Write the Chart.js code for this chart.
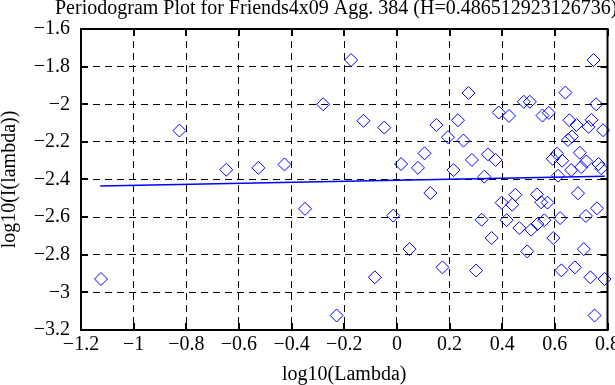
<!DOCTYPE html>
<html lang="en">
<head>
  <meta charset="UTF-8">
  <title>Periodogram Plot</title>
  <script src="https://cdn.jsdelivr.net/npm/chart.js"></script>
  <style>
    body { margin: 0; background: #fff; overflow: hidden; }
    canvas { display: block; }
  </style>
</head>
<body>

<canvas id="grafico" width="615" height="385"></canvas>

<script>
  // titulo e eixos
  const tituloTexto = 'Periodogram Plot for Friends4x09 Agg. 384 (H=0.486512923126736)';
  const eixoX = 'log10(Lambda)';
  const eixoY = 'log10(I(lambda))';
  const ticksX = [-1.2, -1, -0.8, -0.6, -0.4, -0.2, 0, 0.2, 0.4, 0.6, 0.8];
  const ticksY = [-3.2, -3, -2.8, -2.6, -2.4, -2.2, -2, -1.8, -1.6];

  // pontos do periodograma
  const lambdaLog = [
    -1.124, -0.826, -0.648, -0.526, -0.427, -0.349, -0.28, -0.229,
    -0.174, 0.747, 0.272, 0.64, 0.482, 0.505, 0.757, -0.127, -0.048,
    0.387, 0.426, 0.553, 0.577, 0.15, 0.232, 0.655, 0.682, 0.739, 0.728, 0.783,
    0.194, 0.253, 0.65, 0.665, 0.105, 0.016, 0.08, 0.215, 0.285, 0.346, 0.375, 0.332,
    0.592, 0.608, 0.628, 0.695, 0.72, 0.662, 0.7, 0.612, 0.766, 0.776,
    0.127, 0.688, 0.398, 0.438, 0.45, 0.532, 0.548, 0.572, 0.76,
    -0.014, 0.322, 0.417, 0.465, 0.51, 0.534, 0.56, 0.62, 0.594, 0.36, 0.718,
    0.048, 0.495, 0.71, 0.173, 0.301, 0.625, 0.676, 0.735, 0.789, -0.084, 0.751
  ];
  const periodLog = [
    -2.929, -2.14, -2.348, -2.338, -2.32, -2.556, -2.0, -3.123,
    -1.765, -1.765, -1.94, -1.938, -1.987, -1.987, -2.0, -2.088, -2.124,
    -2.044, -2.062, -2.06, -2.046, -2.11, -2.085, -2.085, -2.11, -2.083, -2.12, -2.138,
    -2.175, -2.193, -2.19, -2.172, -2.261, -2.318, -2.338, -2.35, -2.296, -2.266, -2.296, -2.385,
    -2.29, -2.263, -2.3, -2.258, -2.304, -2.35, -2.334, -2.38, -2.318, -2.34,
    -2.472, -2.473, -2.523, -2.534, -2.481, -2.479, -2.521, -2.523, -2.553,
    -2.592, -2.614, -2.616, -2.658, -2.667, -2.637, -2.617, -2.605, -2.711, -2.711, -2.594,
    -2.77, -2.782, -2.77, -2.867, -2.884, -2.883, -2.867, -2.92, -2.929, -2.92, -3.123
  ];

  // reta ajustada
  const retaX = [-1.127, 0.789];
  const retaY = [-2.434, -2.383];

  const azul = '#0000ff';
  const fonte = '"Liberation Serif", "Times New Roman", serif';

  function rotulo(v) {
    const r = Math.round(v * 10) / 10;
    return String(r).replace('-', '\u2212');
  }

  const moldura = {
    id: 'moldura',
    afterDraw(chart) {
      const { ctx, chartArea: a, scales } = chart;
      ctx.save();
      ctx.strokeStyle = '#000';
      ctx.lineWidth = 2;
      ctx.strokeRect(a.left, a.top, a.right - a.left, a.bottom - a.top);
      ctx.beginPath();
      ticksX.forEach(v => {
        const px = Math.round(scales.x.getPixelForValue(v));
        ctx.moveTo(px, a.bottom); ctx.lineTo(px, a.bottom - 7);
        ctx.moveTo(px, a.top); ctx.lineTo(px, a.top + 7);
      });
      ticksY.forEach(v => {
        const py = Math.round(scales.y.getPixelForValue(v));
        ctx.moveTo(a.left, py); ctx.lineTo(a.left + 7, py);
        ctx.moveTo(a.right, py); ctx.lineTo(a.right - 7, py);
      });
      ctx.stroke();
      // titulo (cortado a direita como no original)
      ctx.fillStyle = '#000';
      ctx.font = '20px ' + fonte;
      ctx.textAlign = 'left';
      ctx.textBaseline = 'alphabetic';
      ctx.fillText(tituloTexto, 55, 14);
      ctx.restore();
    }
  };

  new Chart(document.getElementById('grafico'), {
    type: 'scatter',
    data: {
      datasets: [
        {
          data: lambdaLog.map((x, i) => ({ x, y: periodLog[i] })),
          pointStyle: 'rectRot',
          pointRadius: 6.5,
          borderColor: azul,
          backgroundColor: 'rgba(0,0,0,0)',
          borderWidth: 1,
          clip: false
        },
        {
          data: retaX.map((x, i) => ({ x, y: retaY[i] })),
          showLine: true,
          pointRadius: 0,
          borderColor: azul,
          borderWidth: 1.5
        }
      ]
    },
    options: {
      responsive: false,
      animation: false,
      layout: { padding: { top: 29, right: 7, left: 0, bottom: 0 } },
      plugins: {
        legend: { display: false },
        tooltip: { enabled: false },
        title: { display: false }
      },
      scales: {
        x: {
          min: -1.2, max: 0.8,
          afterBuildTicks: s => { s.ticks = ticksX.map(value => ({ value })); },
          afterFit: s => { s.height = 55; s.paddingLeft = 0; s.paddingRight = 0; },
          grid: { color: '#000', lineWidth: 1, drawTicks: false },
          border: { display: false, dash: [7, 5] },
          ticks: {
            color: '#000', font: { family: fonte, size: 20 }, padding: 3,
            maxRotation: 0, autoSkip: false, callback: v => rotulo(v)
          },
          title: { display: true, text: eixoX, color: '#000', font: { family: fonte, size: 20, lineHeight: 1 }, padding: 0 }
        },
        y: {
          min: -3.2, max: -1.6,
          afterBuildTicks: s => { s.ticks = ticksY.map(value => ({ value })); },
          afterFit: s => { s.width = 81; s.paddingTop = 0; s.paddingBottom = 0; },
          grid: { color: '#000', lineWidth: 1, drawTicks: false },
          border: { display: false, dash: [7, 5] },
          ticks: {
            color: '#000', font: { family: fonte, size: 20 }, padding: 11,
            autoSkip: false, callback: v => rotulo(v)
          },
          title: { display: true, text: eixoY, color: '#000', font: { family: fonte, size: 20, lineHeight: 1 }, padding: 0 }
        }
      }
    },
    plugins: [moldura]
  });
</script>

</body>
</html>
